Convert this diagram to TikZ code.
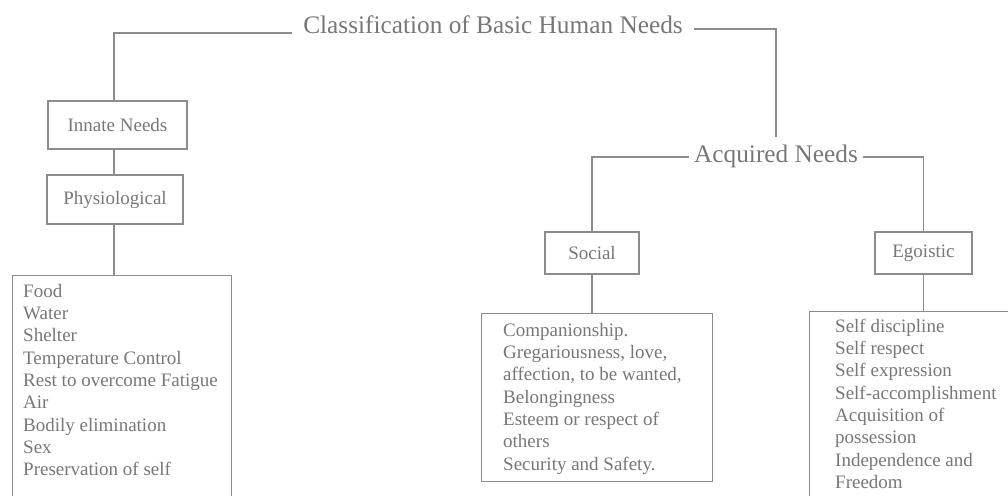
\documentclass[tikz,border=0pt]{standalone}
\usepackage{fontspec}
\setmainfont{Liberation Serif}
\definecolor{inkc}{HTML}{777777}
\definecolor{linec}{HTML}{8C8C8C}
\tikzset{
  every node/.style={text=inkc},
  conn/.style={draw=linec, line width=1.3pt},
  needbox/.style={draw=linec, line width=1.3pt, font=\fontsize{19}{22.3}\selectfont, inner sep=0pt},
  head/.style={font=\fontsize{25.3}{30}\selectfont, inner xsep=5pt, inner ysep=7pt},
  listframe/.style={draw=linec, line width=1.3pt, anchor=north west, inner sep=0pt},
  listtext/.style={anchor=north west, inner sep=0pt, align=left, font=\fontsize{19}{22.3}\selectfont},
}
\begin{document}
\begin{tikzpicture}[x=1pt, y=-1pt]
\useasboundingbox (0,0) rectangle (1008,495);
\clip (0,0) rectangle (1008,495);
% headings
\node[head, anchor=base] (title) at (493,34) {Classification of Basic Human Needs};
\node[head, anchor=base] (acq) at (776,162) {Acquired Needs};
% category boxes
\node[needbox, minimum width=139pt, minimum height=48pt] (innate) at (117.5,125) {Innate Needs};
\node[needbox, minimum width=136pt, minimum height=49pt] (phys) at (115,199.5) {Physiological};
\node[needbox, minimum width=94pt, minimum height=42pt] (social) at (592,253) {Social};
\node[needbox, minimum width=97pt, minimum height=42pt] (ego) at (923.5,253) {Egoistic};
% list frames
\node[listframe, minimum width=219pt, minimum height=260pt] (physbox) at (12,275) {};
\node[listframe, minimum width=231pt, minimum height=168pt] (socbox) at (481,313) {};
\node[listframe, minimum width=260pt, minimum height=260pt] (egobox) at (809,311) {};
% list texts
\node[listtext] (physlist) at (23,281.4) {\strut Food\\Water\\Shelter\\Temperature Control\\Rest to overcome Fatigue\\Air\\Bodily elimination\\Sex\\Preservation of self};
\node[listtext] (soclist) at (503,320.4) {\strut Companionship.\\Gregariousness, love,\\affection, to be wanted,\\Belongingness\\Esteem or respect of\\others\\Security and Safety.};
\node[listtext] (egolist) at (835,316.4) {\strut Self discipline\\Self respect\\Self expression\\Self-accomplishment\\Acquisition of\\possession\\Independence and\\Freedom};
% left spine x-position
\coordinate (lspine) at (114,0);
% connectors
\draw[conn] ([shift={(-6pt,1pt)}]title.base west) -| (lspine |- innate.north);
\draw[conn] ([shift={(6pt,5pt)}]title.base east) -| (acq.north);
\draw[conn] (lspine |- innate.south) -- (lspine |- phys.north);
\draw[conn] (lspine |- phys.south) -- (lspine |- physbox.north);
\draw[conn] ([yshift=5pt]acq.base west) -| (social.north);
\draw[conn] ([yshift=5pt]acq.base east) -| (ego.north);
\draw[conn] (social.south) -- (social.south |- socbox.north);
\draw[conn] (ego.south) -- (ego.south |- egobox.north);
\end{tikzpicture}
\end{document}
